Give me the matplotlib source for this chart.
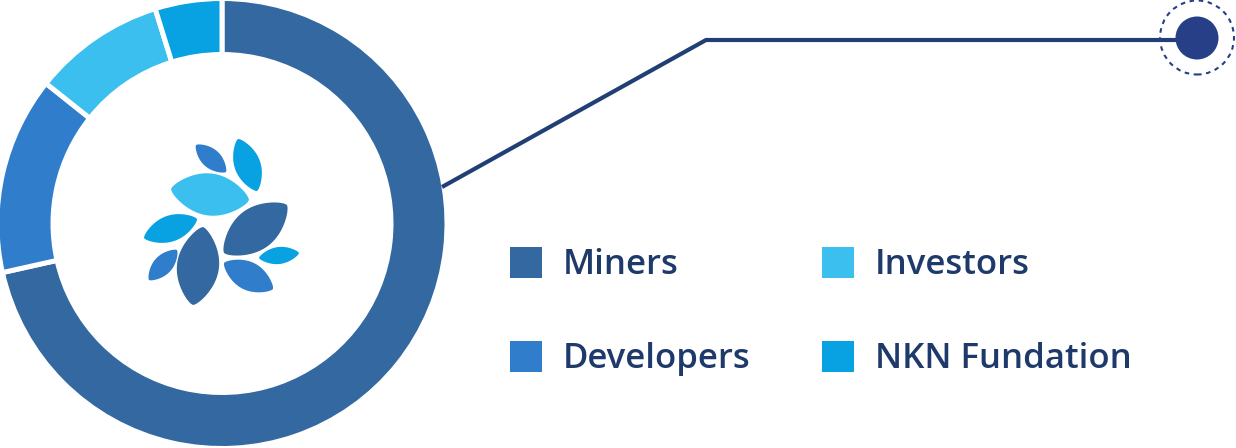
import numpy as np
import matplotlib
matplotlib.use("Agg")
import matplotlib.pyplot as plt
from matplotlib.patches import Circle, Rectangle, Polygon

# ---------------- data ----------------
categories = ["Miners", "Developers", "Investors", "NKN Fundation"]
shares = [71.5, 14.2, 9.5, 4.8]
colors = ["#3468A1", "#2F7DCB", "#3BBFEE", "#08A1E2"]

# legend order (two columns)
legend_order = ["Miners", "Developers", "Investors", "NKN Fundation"]

TEXT = "#1E3A6A"
LINE = "#213F74"
DOT = "#263F86"

W, H = 1236, 448
fig = plt.figure(figsize=(W / 100, H / 100), dpi=100)
ax = fig.add_axes([0, 0, 1, 1])

def Y(y):  # image-row -> up coordinate
    return H - y

# ---------------- donut ----------------
cx, cy = 222, Y(223.5)
ax.pie(shares, colors=colors, startangle=90, counterclock=False,
       radius=225, center=(cx, cy),
       wedgeprops=dict(width=56, edgecolor="white", linewidth=3.6))

# ---------------- logo leaves ----------------
def leaf(p1, p2, width, color, n=80):
    p1 = np.array([p1[0], Y(p1[1])], float)
    p2 = np.array([p2[0], Y(p2[1])], float)
    d = p2 - p1
    L = np.hypot(*d)
    u = d / L
    nrm = np.array([-u[1], u[0]])
    t = np.linspace(0, 1, n)
    half = width / 2 * np.sin(np.pi * t) ** 0.7
    top = p1 + np.outer(t * L, u) + np.outer(half, nrm)
    bot = p1 + np.outer(t[::-1] * L, u) - np.outer(half[::-1], nrm)
    ax.add_patch(Polygon(np.vstack([top, bot]), closed=True,
                         facecolor=color, edgecolor="none"))

leaf((196, 145), (226, 172), 19, colors[1])
leaf((238, 139), (257, 191), 26, colors[3])
leaf((171, 189), (249, 200), 42, colors[2])
leaf((224, 253), (287, 205), 42, colors[0])
leaf((144, 238), (197, 219), 26, colors[3])
leaf((149, 280), (177, 250), 19, colors[1])
leaf((203, 227), (193, 305), 42, colors[0])
leaf((224, 263), (273, 289), 28, colors[1])
leaf((259, 258), (299, 253), 17, colors[3])

# ---------------- connector ----------------
ax.plot([442, 706, 1197], [Y(187), Y(40), Y(40)], color=LINE, lw=3.0,
        solid_joinstyle="miter", solid_capstyle="butt", zorder=2)
ax.add_patch(Circle((1197, Y(37.5)), 37, fill=False, edgecolor=DOT,
                    lw=1.5, linestyle=(0, (2.2, 2.2)), zorder=3))
ax.add_patch(Circle((1197, Y(38)), 21.5, facecolor=DOT, edgecolor="none",
                    zorder=3))

# ---------------- legend ----------------
col_x = [510, 822]
row_base = [274, 368]
sq = 31.5
for i, name in enumerate(legend_order):
    c = colors[categories.index(name)]
    x0 = col_x[i // 2]
    base = row_base[i % 2]
    ax.add_patch(Rectangle((x0, Y(base + 4)), sq, sq, facecolor=c,
                           edgecolor="none"))
    ax.text(x0 + 53, Y(base), name, fontsize=25.0, family="Open Sans",
            fontweight="semibold", color=TEXT, ha="left", va="baseline")

ax.set_xlim(0, W)
ax.set_ylim(0, H)
ax.set_aspect("equal")
ax.axis("off")
fig.savefig("out.png", dpi=100, facecolor="white")
